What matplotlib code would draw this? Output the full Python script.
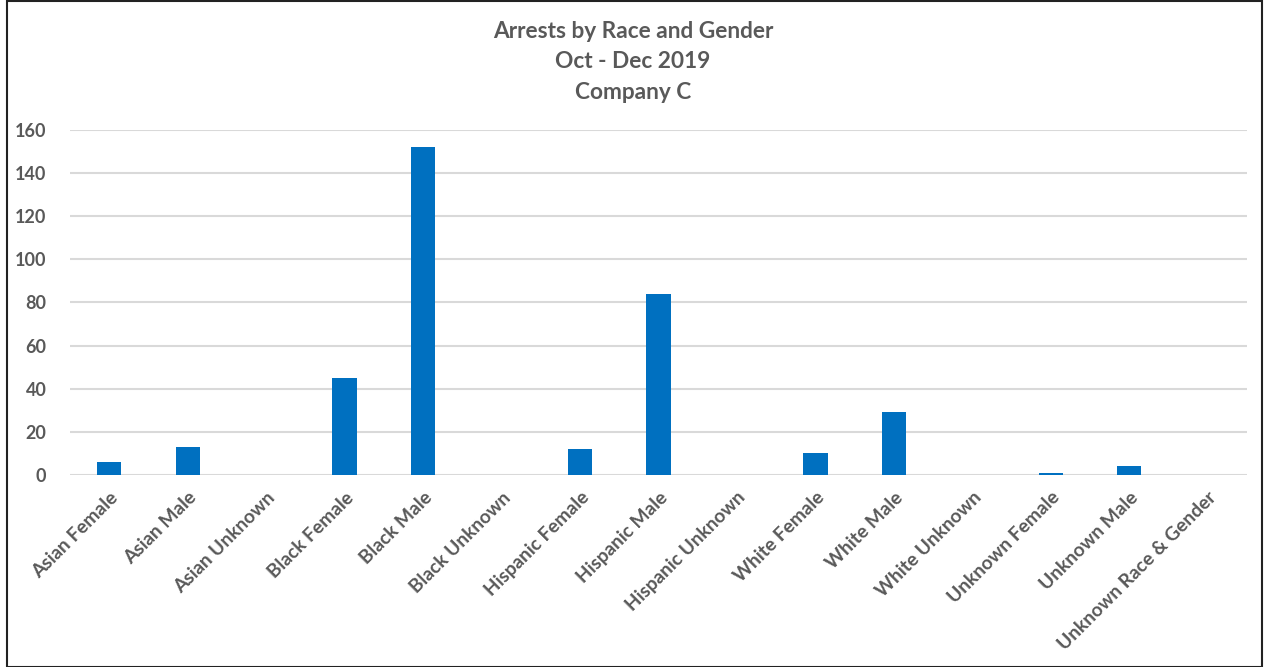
import numpy as np
import matplotlib.pyplot as plt
from matplotlib.patches import Rectangle

# donnees
categories = ["Asian Female", "Asian Male", "Asian Unknown", "Black Female", "Black Male",
              "Black Unknown", "Hispanic Female", "Hispanic Male", "Hispanic Unknown",
              "White Female", "White Male", "White Unknown", "Unknown Female",
              "Unknown Male", "Unknown Race & Gender"]
arrests = [6, 13, 0, 45, 152, 0, 12, 84, 0, 10, 29, 0, 1, 4, 0]
yticks = [0, 20, 40, 60, 80, 100, 120, 140, 160]

plt.rcParams['font.family'] = ['Lato', 'DejaVu Sans']
grey = "#595959"

fig = plt.figure(figsize=(12.66, 6.67), dpi=100)
ax = fig.add_axes([0.0553, 0.288, 0.9297, 0.517])

x = np.arange(len(categories))
ax.bar(x, arrests, width=0.31, color="#0070c0", zorder=3)

ax.set_xlim(-0.5, len(categories) - 0.5)
ax.set_ylim(0, 160)
ax.set_yticks(yticks)
ax.set_yticklabels([str(v) for v in yticks], color=grey, fontsize=13, fontweight="bold")
ax.set_xticks(x)
ax.set_xticklabels(categories, rotation=45, ha="right", rotation_mode="anchor",
                   color=grey, fontsize=13.8, fontweight="bold")
ax.tick_params(axis="x", length=0, pad=10)
ax.tick_params(axis="y", length=0, pad=17)
ax.grid(axis="y", color="#d9d9d9", linewidth=1.5, zorder=0)
for s in ax.spines.values():
    s.set_visible(False)

fig.text(0.5, 0.953, "Arrests by Race and Gender", ha="center", va="center",
         fontsize=16.3, fontweight="bold", color=grey)
fig.text(0.5, 0.908, "Oct - Dec 2019", ha="center", va="center",
         fontsize=16.3, fontweight="bold", color=grey)
fig.text(0.5, 0.862, "Company C", ha="center", va="center",
         fontsize=16.3, fontweight="bold", color=grey)

# cadre autour de l'image
fig.patches.append(Rectangle((0.0055, 0.0), 0.991, 0.998, transform=fig.transFigure,
                             fill=False, edgecolor="#222222", linewidth=1.5))

fig.savefig("out.png", dpi=100)
